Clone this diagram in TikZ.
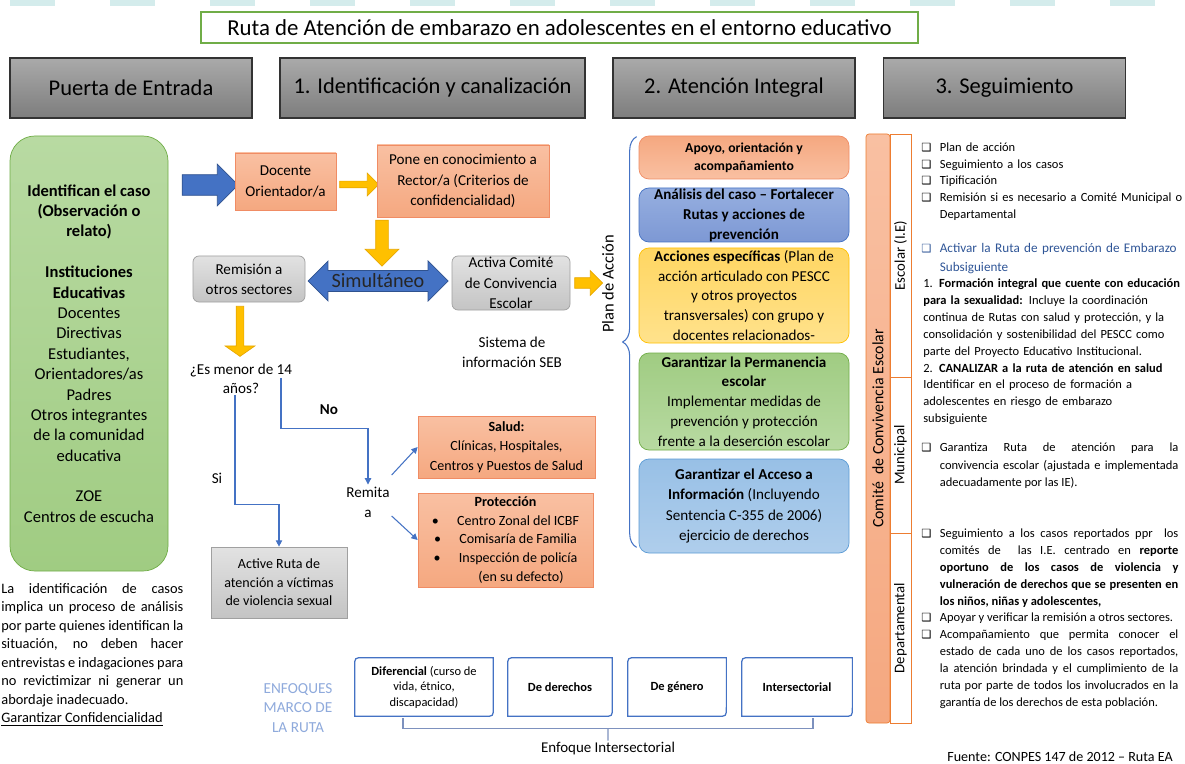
\documentclass[tikz,border=0pt]{standalone}
\usepackage{fontspec}
\setmainfont{Carlito}
\newfontfamily\symfont{DejaVu Sans}
\usetikzlibrary{shapes.arrows,decorations.pathreplacing,calc,arrows.meta}

\newlength\upx
\setlength\upx{0.02cm}

\definecolor{ofBlue}{RGB}{68,114,196}
\definecolor{ofBlueDk}{RGB}{47,82,143}
\definecolor{ofYellow}{RGB}{255,192,0}
\definecolor{ofYellowDk}{RGB}{232,168,0}
\definecolor{salmon}{RGB}{245,168,128}
\definecolor{salmonLt}{RGB}{249,192,162}
\definecolor{salmonBd}{RGB}{240,140,100}
\definecolor{ofOrange}{RGB}{237,125,49}
\definecolor{grayLt}{RGB}{226,226,226}
\definecolor{grayMd}{RGB}{196,196,196}
\definecolor{grayBd}{RGB}{160,160,160}
\definecolor{hdrTop}{RGB}{170,170,170}
\definecolor{hdrBot}{RGB}{125,125,125}
\definecolor{greenLt}{RGB}{184,218,162}
\definecolor{greenMd}{RGB}{160,204,130}
\definecolor{greenBd}{RGB}{112,173,71}
\definecolor{periLt}{RGB}{150,175,224}
\definecolor{periMd}{RGB}{125,152,212}
\definecolor{yelLt}{RGB}{255,226,140}
\definecolor{yelMd}{RGB}{255,214,98}
\definecolor{skyLt}{RGB}{175,206,236}
\definecolor{skyMd}{RGB}{152,192,230}
\definecolor{skyBd}{RGB}{91,155,213}
\definecolor{enfText}{RGB}{143,170,220}
\definecolor{segBlue}{RGB}{47,85,151}
\definecolor{bandTeal}{RGB}{212,236,236}
\definecolor{brGray}{RGB}{125,145,190}

\newcommand\chk{\smash{\symfont\bfseries\fontsize{6.4}{8}\selectfont ❑}}
\newcommand\bulx{\noindent\hangindent=0.37cm\hangafter=1\makebox[0.37cm][l]{\chk}}
\newcommand\bul{\par\bulx}
\newcommand\enfframe[1]{%
  \draw[enfline] (#1.south west) -- ($(#1.north west)+(0,9)$) .. controls (#1.north west) .. ($(#1.north west)+(9,0)$) -- (#1.north east) -- ($(#1.south east)+(0,-9)$) .. controls (#1.south east) .. ($(#1.south east)+(-9,0)$) -- cycle;}

\begin{document}
\begin{tikzpicture}[x=0.02cm, y=-0.02cm,
  body/.style={font=\fontsize{8.6}{11.5}\selectfont, align=center, inner sep=1pt},
  hdr/.style={draw=black!80, line width=0.6pt, top color=hdrTop, bottom color=hdrBot, minimum width=242\upx, minimum height=60\upx, inner sep=0pt, font=\fontsize{12.8}{15}\selectfont},
  salbox/.style={body, draw=salmonBd, top color=salmonLt, bottom color=salmon, inner sep=0pt},
  grybox/.style={body, draw=grayBd, top color=grayLt, bottom color=grayMd, inner sep=0pt},
  yarrow/.style={single arrow, draw=ofYellowDk, fill=ofYellow},
  barrow/.style={draw=ofBlueDk, fill=ofBlue},
  conn/.style={draw=ofBlue, line width=0.6pt, -{Triangle[length=3.6pt,width=3.6pt]}},
  atbox/.style={body, rounded corners=0.2cm, minimum width=210\upx, inner sep=0pt},
  enfbox/.style={font=\fontsize{7.1}{8.8}\selectfont, align=center, minimum height=58\upx, inner sep=0pt},
  enfline/.style={draw=ofBlue, line width=0.7pt},
  bracket/.style={draw=brGray, line width=0.6pt},
  sidebar/.style={rotate=90, draw=ofOrange, fill=white, minimum height=21\upx, inner sep=0pt, font=\fontsize{8.4}{10}\selectfont},
  segtext/.style={anchor=north west, inner sep=0pt, text width=257\upx, font=\fontsize{7.1}{9.5}\selectfont, execute at begin node={\setlength{\parindent}{0pt}\hyphenpenalty=10000}}
]
\fill[white] (0,0) rectangle (1185,763);
\useasboundingbox (0,0) rectangle (1185,763);
\draw[bandTeal, line width=0.14cm, dash pattern=on 0.9cm off 1.1cm] (10,3) -- (1185,3);

% titulo y encabezados
\node[draw=greenBd, line width=0.6pt, minimum width=717\upx, minimum height=31\upx, inner sep=0pt, font=\fontsize{13}{15}\selectfont] (titulo) at (559.5,27.5) {Ruta de Atención de embarazo en adolescentes en el entorno educativo};
\node[hdr] (hPuerta) at (131,88) {Puerta de Entrada};
\node[hdr, minimum width=305\upx] (hIdent) at (432.5,88) {1. Identificación y canalización};
\node[hdr] (hAtencion) at (734,88) {2. Atención Integral};
\node[hdr] (hSeguim) at (1004.5,88) {3. Seguimiento};

% puerta de entrada
\node[body, draw=greenBd, top color=greenLt, bottom color=greenMd, rounded corners=0.5cm, minimum width=158\upx, minimum height=435\upx, inner sep=0pt, font=\fontsize{9.4}{11.6}\selectfont] (identifican) at (89,353.5) {\textbf{Identifican el caso}\\\textbf{(Observación o}\\\textbf{relato)}\\[11.6pt]\textbf{Instituciones}\\\textbf{Educativas}\\Docentes\\Directivas\\Estudiantes,\\Orientadores/as\\Padres\\Otros integrantes\\de la comunidad\\educativa\\[11.6pt]ZOE\\Centros de escucha};
\node[anchor=north west, inner sep=0pt, text width=182\upx, align=justify, font=\fontsize{8.2}{10.5}\selectfont, execute at begin node={\setlength{\parindent}{0pt}\hyphenpenalty=10000}] (nota) at (1,583) {La identificación de casos\linebreak implica un proceso de análisis\linebreak por parte quienes identifican la\linebreak situación, no deben hacer\linebreak entrevistas e indagaciones para\linebreak no revictimizar ni generar un\linebreak abordaje inadecuado.\par\underline{Garantizar Confidencialidad}\par};

% identificacion y canalizacion
\node[single arrow, barrow, inner sep=0.2cm, single arrow head extend=0.21cm, minimum height=56\upx] (flechaIn) at (205,185) {};
\node[salbox, minimum width=101\upx, minimum height=57\upx] (docente) at (285.5,181.5) {Docente\\Orientador/a};
\node[yarrow, inner sep=0.06cm, single arrow head extend=0.16cm, minimum height=39\upx] (flechaA) at (357.5,184.5) {};
\node[salbox, minimum width=172\upx, minimum height=72\upx] (pone) at (463,181) {Pone en conocimiento a\\Rector/a (Criterios de\\confidencialidad)};
\node[yarrow, shape border rotate=270, inner sep=0.12cm, single arrow head extend=0.21cm, minimum height=46\upx] (flechaB) at (382,240) {};
\node[grybox, rounded corners=0.12cm, minimum width=112\upx, minimum height=46\upx] (remision) at (249,279) {Remisión a\\otros sectores};
\node[double arrow, barrow, inner xsep=0pt, inner ysep=3\upx, double arrow head extend=0.19cm, minimum height=140\upx, font=\fontsize{11.5}{13}\selectfont, text=black!85] (simult) at (378,281) {Simultáneo};
\node[grybox, rounded corners=0.12cm, minimum width=118\upx, minimum height=54\upx] (activa) at (511,283) {Activa Comité\\de Convivencia\\Escolar};
\node[yarrow, inner sep=0.1cm, single arrow head extend=0.14cm, minimum height=28\upx] (flechaC) at (586,283) {};
\node[body] (seb) at (512,352) {Sistema de\\información SEB};
\node[yarrow, shape border rotate=270, inner sep=0.07cm, single arrow tip angle=110, single arrow head extend=0.22cm, minimum height=50\upx] (flechaD) at (240,330) {};
\node[body, font=\fontsize{8.6}{10.8}\selectfont] (menor) at (241,378.5) {¿Es menor de 14\\años?};
\node[body] (remita) at (368,502) {Remita\\a};
\node[body, font=\fontsize{8.6}{11.5}\selectfont\bfseries] (lblNo) at (329,410) {No};
\node[body] (lblSi) at (217,478) {Si};
\node[salbox, font=\fontsize{8}{11}\selectfont, minimum width=177\upx, minimum height=62\upx] (salud) at (506.5,447) {\textbf{Salud:}\\Clínicas, Hospitales,\\Centros y Puestos de Salud};
\node[salbox, font=\fontsize{8}{10.6}\selectfont, minimum width=175\upx, minimum height=94\upx] (proteccion) at (505.5,540) {\textbf{Protección}\\\textbullet\hspace{1.3em}Centro Zonal del ICBF\\\textbullet\hspace{1.3em}Comisaría de Familia\\\textbullet\hspace{1.3em}Inspección de policía\\\hspace{2.2em}(en su defecto)};
\node[grybox, font=\fontsize{8}{10.5}\selectfont, minimum width=136\upx, minimum height=71\upx] (rutaVS) at (279,582.5) {Active Ruta de\\atención a víctimas\\de violencia sexual};

\coordinate (noIni) at (281,378);
\draw[conn] ($(menor.south)+(-6,0)$) |- ($(rutaVS.north)+(0,-42)$) -- (rutaVS.north);
\draw[conn] (noIni) |- ($(remita.north)+(0,-56)$) -- (remita.north);
\draw[conn] ($(remita.east)+(0,-27)$) -- (salud.west);
\draw[conn] ($(remita.east)+(0,14)$) -- (proteccion.west);

% atencion integral
\node[atbox, draw=salmonBd, top color=salmon, bottom color=salmonLt, minimum height=43\upx, font=\fontsize{7.8}{10.5}\selectfont\bfseries] (apoyo) at (744,157.5) {Apoyo, orientación y\\acompañamiento};
\node[atbox, draw=ofBlue, top color=periLt, bottom color=periMd, minimum height=54\upx, font=\fontsize{8.6}{11.4}\selectfont\bfseries] (analisis) at (744,215) {Análisis del caso – Fortalecer\\Rutas y acciones de\\prevención};
\node[atbox, draw=ofYellow, top color=yelMd, bottom color=yelLt, minimum height=95\upx, font=\fontsize{8.6}{11.3}\selectfont] (acciones) at (744,295.5) {\textbf{Acciones específicas} (Plan de\\acción articulado con PESCC\\y otros proyectos\\transversales) con grupo y\\docentes relacionados-};
\node[atbox, draw=greenBd, top color=greenMd, bottom color=greenLt, minimum height=97\upx, font=\fontsize{8.6}{11.3}\selectfont] (permanencia) at (744,401.5) {\textbf{Garantizar la Permanencia}\\\textbf{escolar}\\Implementar medidas de\\prevención y protección\\frente a la deserción escolar};
\node[atbox, draw=skyBd, top color=skyMd, bottom color=skyLt, minimum height=94\upx] (acceso) at (744,506) {\textbf{Garantizar el Acceso a}\\\textbf{Información} (Incluyendo\\Sentencia C-355 de 2006)\\ejercicio de derechos};
\node[rotate=90, font=\fontsize{9.4}{11}\selectfont, inner sep=0pt] (planAccion) at (608,284) {Plan de Acción};
\draw[draw=ofBlue, line width=0.6pt, decorate, decoration={brace, amplitude=0.28cm}] ($(acceso.south west)+(-2,-6)$) -- ($(apoyo.north west)+(-2,1)$);

% seguimiento
\node[rotate=90, draw=ofOrange, top color=salmonLt, bottom color=salmon, rounded corners=0.06cm, minimum width=589\upx, minimum height=24\upx, inner sep=0pt, font=\fontsize{9}{11}\selectfont] (comite) at (878,428.5) {Comité\ \ de Convivencia Escolar};
\node[sidebar, minimum width=243\upx] (sEscolar) at (900.5,255.5) {Escolar (I.E)};
\node[sidebar, minimum width=156\upx] (sMunicipal) at (900.5,455) {Municipal};
\node[sidebar, minimum width=190\upx] (sDepart) at (900.5,628) {Departamental};

\node[segtext, align=left, text width=264\upx] (segEscolar) at (921,142.6) {\bulx Plan de acción\bul Seguimiento a los casos\bul Tipificación\bul Remisión si es necesario a Comité Municipal o\newline Departamental\par};
\node[segtext, align=left, text width=264\upx, text=segBlue, font=\fontsize{7.5}{10.8}\selectfont] (segActivar) at (921,243.3) {\bulx Activar la Ruta de prevención de Embarazo\newline Subsiguiente\par};
\node[segtext, align=left, text width=264\upx, font=\fontsize{7.1}{9.6}\selectfont] (segFormacion) at (923,278.6) {1. \textbf{Formación integral que cuente con educación}\newline \textbf{para la sexualidad:} Incluye la coordinación\newline continua de Rutas con salud y protección, y la\newline consolidación y sostenibilidad del PESCC como\newline parte del Proyecto Educativo Institucional.\newline 2. \textbf{CANALIZAR a la ruta de atención en salud}\newline Identificar en el proceso de formación a\newline adolescentes en riesgo de embarazo\newline subsiguiente\par};
\node[segtext, align=justify, font=\fontsize{7.1}{9.9}\selectfont] (segGarantiza) at (921,442.6) {\bulx Garantiza Ruta de atención para la\linebreak convivencia escolar (ajustada e implementada\linebreak adecuadamente por las IE).\par};
\node[segtext, align=justify, font=\fontsize{7.1}{9.6}\selectfont] (segDepart) at (921,528.6) {\bulx Seguimiento a los casos reportados ppr\ \ los\linebreak comités de\ \ las I.E. centrado en \textbf{reporte}\linebreak \textbf{oportuno de los casos de violencia y}\linebreak \textbf{vulneración de derechos que se presenten en}\linebreak \textbf{los niños, niñas y adolescentes,}\bul Apoyar y verificar la remisión a otros sectores.\bul Acompañamiento que permita conocer el\linebreak estado de cada uno de los casos reportados,\linebreak la atención brindada y el cumplimiento de la\linebreak ruta por parte de todos los involucrados en la\linebreak garantía de los derechos de esta población.\par};
\node[font=\fontsize{8}{10}\selectfont, inner sep=1pt] (fuente) at (1060,757) {Fuente: CONPES 147 de 2012 – Ruta EA};

% enfoques
\node[font=\fontsize{8.7}{11.3}\selectfont, text=enfText, align=center, inner sep=1pt] (enfoques) at (298,708) {ENFOQUES\\MARCO DE\\LA RUTA};
\node[enfbox, minimum width=138\upx] (eDif) at (424,687) {\textbf{Diferencial} (curso de\\vida, étnico,\\discapacidad)};
\node[enfbox, minimum width=104\upx] (eDer) at (560,687) {\textbf{De derechos}};
\node[enfbox, minimum width=98\upx] (eGen) at (677,687) {\textbf{De género}};
\node[enfbox, minimum width=110\upx] (eInt) at (797,687) {\textbf{Intersectorial}};
\foreach \n in {eDif,eDer,eGen,eInt} {\enfframe{\n}}
\node[font=\fontsize{8.5}{10}\selectfont, inner sep=1pt] (enfLbl) at (608,749) {Enfoque Intersectorial};
\coordinate (brL) at ($(eDif.south)+(-21,2)$);
\coordinate (brR) at ($(eInt.south)+(16,2)$);
\draw[bracket] (brL) -- ++(0,10) -| (brR);
\draw[bracket] ($(brL)!0.5!(brR)+(0,10)$) -- (enfLbl.north);
\end{tikzpicture}
\end{document}
